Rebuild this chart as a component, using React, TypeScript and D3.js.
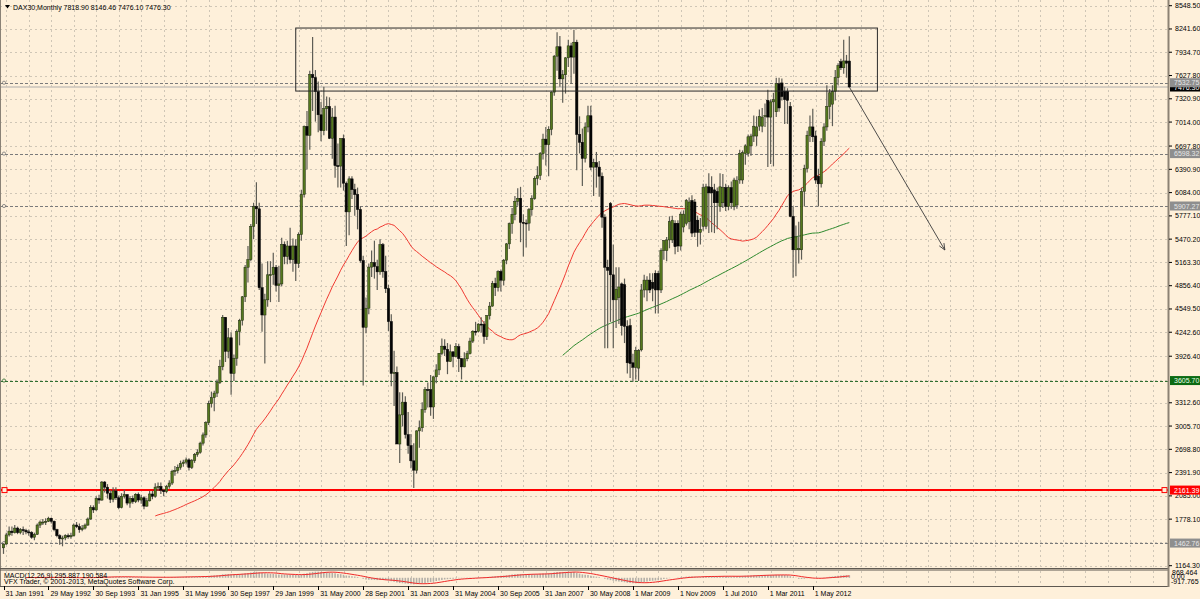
import React from 'react';
import * as d3 from 'd3';

// ---------- DATA ----------
const openP = [
  1400,1450,1570,1620,1600,1660,1600,1640,1630,1610,1600,1540,
  1578,1700,1740,1740,1750,1790,1750,1640,1560,1520,1530,1560,
  1545,1560,1700,1680,1640,1660,1700,1780,1930,1900,2050,2030,
  2267,2200,2120,2040,2150,2060,1930,2080,2100,1990,2050,2010,
  2106,2030,2060,1950,2020,2110,2080,2200,2210,2160,2140,2210,
  2254,2410,2420,2460,2510,2530,2560,2460,2550,2630,2660,2780,
  2889,3050,3300,3380,3440,3580,3790,4440,3990,4170,3700,3900,
  4250,4400,4710,5100,5200,5640,5900,5870,4830,4470,4670,5000,
  5002,5100,4860,4880,5400,5240,5380,5200,5380,5150,5530,6060,
  6958,6840,7640,7600,7414,7110,6900,7190,7220,6800,7080,6440,
  6434,6795,6208,5830,6265,6123,6058,5861,5188,4308,4560,5102,
  5160,5108,5039,5397,5042,4818,4383,3700,3712,2769,3153,3321,
  2893,2748,2547,2424,2942,2983,3221,3487,3485,3257,3655,3746,
  3965,4059,4018,3857,3985,3921,4052,3895,3786,3893,3960,4126,
  4256,4254,4350,4349,4185,4461,4587,4887,4830,5044,4929,5193,
  5408,5674,5796,5970,6009,5692,5683,5681,5859,6004,6269,6309,
  6597,6789,6716,6917,7409,7883,8007,7584,7638,7861,8019,7871,
  8067,6851,6748,6535,6949,
  7097,6420,6480,6420,6300,5760,5100,5940,5000,4670,
  4700,4880,4870,4320,4330,3840,3780,3770,4010,4800,
  4800,4930,4900,5020,5020,4800,5320,5320,5460,5460,
  5680,5680,5380,5630,5680,5700,5980,5960,5720,5560,
  5640,5640,6160,6150,6120,6100,5900,5950,6150,5900,
  6150,5900,5920,6250,6250,6600,6600,6700,6830,6830,
  6960,6960,7090,7300,7080,7280,7150,7520,7530,7420,
  7420,7220,5770,5330,5330,5330,6100,6400,6840,6950,
  6830,6300,6200,6760,6950,7220,7250,7420,7600,7810,
  7730,7820,7818.9,
];
const highP = [
  1460,1600,1680,1680,1700,1680,1660,1680,1650,1640,1620,1600,
  1720,1760,1780,1790,1810,1800,1760,1650,1580,1560,1580,1590,
  1600,1720,1740,1720,1700,1720,1800,1960,1960,2080,2100,2280,
  2280,2240,2160,2200,2200,2090,2120,2170,2110,2080,2090,2120,
  2130,2100,2080,2060,2150,2150,2250,2260,2260,2180,2230,2290,
  2430,2480,2500,2550,2560,2590,2580,2570,2650,2700,2800,2920,
  3070,3340,3460,3470,3620,3880,4470,4440,4300,4240,3950,4280,
  4420,4720,5130,5380,5670,5950,6220,5950,5150,4750,5180,5180,
  5290,5130,5120,5490,5440,5450,5620,5480,5470,5560,6120,6970,
  7160,7690,8136,7700,7550,7280,7480,7350,7340,7200,7230,6730,
  6800,6850,6230,6300,6300,6200,6150,5900,5250,4700,5150,5320,
  5450,5200,5470,5420,5250,4870,4480,4000,3790,3450,3450,3400,
  3190,2900,2780,2950,3080,3320,3520,3580,3680,3660,3820,3970,
  4160,4150,4100,4080,3990,4100,4090,3900,3980,4000,4170,4270,
  4380,4360,4440,4390,4470,4640,4920,4960,5060,5070,5210,5420,
  5690,5880,6040,6140,6160,5800,5730,5880,6050,6300,6430,6620,
  6860,6950,6960,7420,7900,8200,8150,7700,7870,8100,8060,8230,
  8100,7090,6930,7010,7230,
  7230,6530,6620,6500,6350,5800,5200,5960,5400,5100,
  5100,4900,4950,4400,4420,3960,4050,4020,4880,5000,
  4980,5020,5020,5060,5050,5350,5460,5500,5770,5780,
  5720,5720,5830,5850,6000,6020,6050,6000,5780,5750,
  6200,6200,6340,6300,6200,6150,6340,6330,6200,6180,
  6230,6280,6300,6650,6640,6720,6850,6860,7100,7090,
  7180,7200,7260,7440,7310,7400,7600,7600,7590,7480,
  7460,7280,5900,5650,5700,6150,6450,6900,7100,7190,
  6900,6400,6800,7000,7500,7450,7500,7700,7790,7850,
  8100,7900,8146.46,
];
const lowP = [
  1320,1440,1550,1560,1590,1580,1580,1570,1580,1560,1520,1500,
  1570,1660,1700,1700,1740,1720,1620,1540,1440,1420,1500,1520,
  1520,1550,1660,1600,1620,1640,1690,1770,1860,1890,1980,2020,
  2130,2050,1990,2000,2030,1910,1920,2050,1960,1930,1980,1990,
  2000,1980,1910,1940,2010,2040,2060,2150,2110,2080,2120,2180,
  2230,2350,2380,2430,2470,2500,2420,2440,2520,2600,2640,2750,
  2850,3020,3250,3200,3390,3560,3740,3850,3900,3420,3600,3800,
  4070,4330,4640,4900,5180,5470,5670,4800,4250,3830,4580,4640,
  4870,4780,4640,4850,5140,5140,5150,5040,4920,5090,5450,6020,
  6390,6650,7160,7020,6880,6760,6840,6900,6790,6530,6280,6150,
  6150,6110,5380,5520,6000,5780,5600,5160,3540,4230,4480,4970,
  4950,4800,5000,4960,4760,4260,3530,3270,2770,2520,3000,2840,
  2640,2450,2190,2380,2720,2930,3180,3250,3140,3100,3570,3680,
  3940,3930,3690,3850,3780,3910,3720,3620,3780,3860,3950,4100,
  4200,4240,4240,4090,4140,4410,4580,4720,4780,4780,4860,5140,
  5340,5540,5720,5910,5430,5240,5360,5580,5780,5990,6180,6250,
  6520,6440,6300,6840,7360,7690,7480,7270,7390,7740,7520,7650,
  6380,6600,6170,6480,6880,
  6380,6040,6150,6030,5620,4030,4030,4380,4030,4300,
  4350,4200,4100,3700,3640,3590,3620,3600,3990,4700,
  4650,4760,4650,4490,4490,4760,5200,5180,5350,5420,
  5270,5300,5320,5560,5650,5600,5500,5500,5370,5400,
  5580,5600,5550,5560,5550,5600,5830,5880,5840,5850,
  5870,5850,5870,6200,6200,6450,6560,6570,6750,6700,
  6900,6880,6950,6420,6460,6430,7080,7150,7300,6990,
  6990,5760,4960,4980,5150,5200,5900,6350,6750,6750,
  6200,5900,6150,6700,6900,7050,6960,7300,7500,7700,
  7650,7600,7476.1,
];
const closeP = [
  1450,1570,1620,1600,1660,1600,1640,1630,1610,1600,1540,1578,
  1700,1740,1740,1750,1790,1750,1640,1560,1520,1530,1560,1545,
  1560,1700,1680,1640,1660,1700,1780,1930,1900,2050,2030,2267,
  2200,2120,2040,2150,2060,1930,2080,2100,1990,2050,2010,2106,
  2030,2060,1950,2020,2110,2080,2200,2210,2160,2140,2210,2254,
  2410,2420,2460,2510,2530,2560,2460,2550,2630,2660,2780,2889,
  3050,3300,3380,3440,3580,3790,4440,3990,4170,3700,3900,4250,
  4400,4710,5100,5200,5640,5900,5870,4830,4470,4670,5000,5002,
  5100,4860,4880,5400,5240,5380,5200,5380,5150,5530,6060,6958,
  6840,7640,7600,7414,7110,6900,7190,7220,6800,7080,6440,6434,
  6795,6208,5830,6265,6123,6058,5861,5188,4308,4560,5102,5160,
  5108,5039,5397,5042,4818,4383,3700,3712,2769,3153,3321,2893,
  2748,2547,2424,2942,2983,3221,3487,3485,3257,3655,3746,3965,
  4059,4018,3857,3985,3921,4052,3895,3786,3893,3960,4126,4256,
  4254,4350,4349,4185,4461,4587,4887,4830,5044,4929,5193,5408,
  5674,5796,5970,6009,5692,5683,5681,5859,6004,6269,6309,6597,
  6789,6716,6917,7409,7883,8007,7584,7638,7861,8019,7871,8067,
  6851,6748,6535,6949,7097,
  6420,6480,6420,6300,5760,5100,5060,5000,4670,4810,
  4840,4330,4320,3840,3830,3780,4000,4000,4800,4930,
  4930,4800,4820,4800,4800,5320,5450,5460,5700,5720,
  5370,5380,5800,5800,5980,5960,5550,5560,5560,5600,
  6150,6160,6080,6080,5950,5950,6160,6150,5900,6150,
  5950,6250,6240,6600,6610,6700,6820,6830,6960,6950,
  7090,7080,7100,7080,7280,7310,7520,7200,7350,7310,
  7300,5770,5330,5500,5350,6100,6400,6840,6950,6820,
  6250,6200,6760,6950,7220,7400,7420,7600,7760,7730,
  7820,7790,7476.3,
];

const timeLabels = [
  '31 Jan 1991','29 May 1992','30 Sep 1993','31 Jan 1995','31 May 1996','30 Sep 1997',
  '29 Jan 1999','31 May 2000','28 Sep 2001','31 Jan 2003','31 May 2004','30 Sep 2005',
  '31 Jan 2007','30 May 2008','1 Mar 2009','1 Nov 2009','1 Jul 2010','1 Mar 2011','1 May 2012',
];
const timeLabelBars = [0,16,32,48,64,80,96,112,128,144,160,176,192,208,224,240,256,272,288];

const priceTicks = [
  '8548.50','8241.60','7934.70','7627.80','7320.90','7014.00','6697.80','6390.90','6084.00',
  '5777.10','5470.20','5163.30','4856.40','4549.50','4242.60','3926.40','3312.60','3005.70',
  '2698.80','2391.90','2085.00','1778.10','1164.30',
];
const gridPrices = [3619.5, 1471.2];

const greyLevels = [7532.75, 6598.32, 5907.27, 1462.76];
const greenLevel = 3605.70;
const redLevel = 2161.39;
const bidPrice = 7476.30;

const boxBars = [104, 311];
const boxPrices = [8254, 7423];
const arrowBars = [301, 335];
const arrowPrices = [7476, 5327];

const headerText = 'DAX30,Monthly  7818.90 8146.46 7476.10 7476.30';
const macdText = 'MACD(12,26,9) 295.887 190.584';
const copyText = 'VFX Trader, \u00a9 2001-2013, MetaQuotes Software Corp.';
const macdRange = [-917.765, 868.464];
const maPeriods = [55, 200];

// ---------- CHART ----------
const BG = '#FEF0DA';
const FONT = '"Liberation Sans", Arial, sans-serif';
const PLOT_R = 1168;
const PLOT_B = 568;

export default function App() {
  const xs = d3.scaleLinear().domain([0, 288]).range([3.5, 3.5 + 2.81 * 288]);
  const ys = d3.scaleLinear().domain([1164.3, 8548.5]).range([565.7, 5.7]);
  const ym = d3.scaleLinear().domain(macdRange).range([585, 571]);

  const sma = (arr: number[], p: number) =>
    arr.map((_, i) => (i < p - 1 ? null : (d3.mean(arr.slice(i - p + 1, i + 1)) as number)));
  const ema = (p: number) => {
    const k = 2 / (p + 1);
    const out: number[] = [];
    closeP.forEach((c, i) => out.push(i === 0 ? c : c * k + out[i - 1] * (1 - k)));
    return out;
  };
  const maFast = sma(closeP, maPeriods[0]);
  const maSlow = sma(closeP, maPeriods[1]);
  const e12 = ema(12), e26 = ema(26);
  const macd = e12.map((v, i) => v - e26[i]);
  const signal = sma(macd, 9);
  const clampM = (v: number) => Math.max(macdRange[0], Math.min(macdRange[1], v));

  const priceLine = d3.line<number | null>()
    .defined((d) => d != null)
    .x((_, i) => xs(i))
    .y((d) => ys(d as number));
  const sigLine = d3.line<number | null>()
    .defined((d) => d != null)
    .x((_, i) => xs(i))
    .y((d) => ym(clampM(d as number)));

  const gridX: number[] = [];
  for (let b = 1; xs(b) < PLOT_R; b += 8) gridX.push(xs(b));

  const ax = xs(arrowBars[0]), ay = ys(arrowPrices[0]);
  const bx = xs(arrowBars[1]), by = ys(arrowPrices[1]);
  const ang = Math.atan2(by - ay, bx - ax);
  const ah = 7;
  const arrowHead = `M${bx - ah * Math.cos(ang - 0.4)},${by - ah * Math.sin(ang - 0.4)} L${bx},${by} L${bx - ah * Math.cos(ang + 0.4)},${by - ah * Math.sin(ang + 0.4)}`;

  const priceBox = (price: number, label: string, bg: string, fg: string, key: string) => {
    const y = ys(price);
    return (
      <g key={key}>
        <rect x={1170} y={y - 4.5} width={30} height={9} fill={bg} />
        <text x={1174} y={y + 2.6} fontSize={7} fontFamily={FONT} fill={fg}>{label}</text>
      </g>
    );
  };

  return (
    <svg width={1200} height={599} style={{ position: 'absolute', left: 0, top: 0, background: BG }}>
      <defs>
        <clipPath id="plot"><rect x={0} y={0} width={PLOT_R} height={PLOT_B} /></clipPath>
        <clipPath id="macd"><rect x={0} y={570} width={PLOT_R} height={16} /></clipPath>
      </defs>
      <rect x={0} y={0} width={1200} height={599} fill={BG} />

      {/* grid */}
      <g stroke="#CFC6B6" strokeWidth={1} strokeDasharray="2,3">
        {priceTicks.map((t) => (
          <line key={t} x1={0} x2={PLOT_R} y1={Math.round(ys(+t)) + 0.5} y2={Math.round(ys(+t)) + 0.5} />
        ))}
        {gridPrices.map((p) => (
          <line key={p} x1={0} x2={PLOT_R} y1={Math.round(ys(p)) + 0.5} y2={Math.round(ys(p)) + 0.5} />
        ))}
        {gridX.map((x, i) => (
          <line key={i} x1={Math.round(x) + 0.5} x2={Math.round(x) + 0.5} y1={0} y2={PLOT_B} />
        ))}
        {gridX.map((x, i) => (
          <line key={'m' + i} x1={Math.round(x) + 0.5} x2={Math.round(x) + 0.5} y1={571} y2={585} />
        ))}
      </g>

      <g clipPath="url(#plot)">
        {/* level lines */}
        <line x1={0} x2={PLOT_R} y1={ys(bidPrice)} y2={ys(bidPrice)} stroke="#C9C3BA" strokeWidth={1.5} />
        {greyLevels.map((p) => (
          <g key={p}>
            <line x1={0} x2={PLOT_R} y1={Math.round(ys(p)) + 0.5} y2={Math.round(ys(p)) + 0.5} stroke="#7A7A7A" strokeDasharray="3,2" />
            <circle cx={4} cy={ys(p)} r={1.6} fill="none" stroke="#7A7A7A" strokeWidth={0.8} />
          </g>
        ))}
        <line x1={0} x2={PLOT_R} y1={Math.round(ys(greenLevel)) + 0.5} y2={Math.round(ys(greenLevel)) + 0.5} stroke="#2F6F2F" strokeDasharray="3,2" />
        <circle cx={4} cy={ys(greenLevel)} r={1.6} fill="none" stroke="#2F6F2F" strokeWidth={0.8} />
        <line x1={0} x2={PLOT_R} y1={ys(redLevel)} y2={ys(redLevel)} stroke="#FF0000" strokeWidth={2} />
        <rect x={2} y={ys(redLevel) - 2.5} width={5} height={5} fill={BG} stroke="#FF0000" strokeWidth={1} />
        <rect x={1162} y={ys(redLevel) - 2.5} width={5} height={5} fill={BG} stroke="#FF0000" strokeWidth={1} />

        {/* moving averages */}
        <path d={priceLine(maFast) || ''} fill="none" stroke="#F03A32" strokeWidth={1} />
        <path d={priceLine(maSlow) || ''} fill="none" stroke="#2E8A2E" strokeWidth={1} />

        {/* candles */}
        {closeP.map((c, i) => {
          const o = openP[i];
          const x = xs(i);
          const up = c >= o;
          const top = ys(Math.max(o, c));
          const bot = ys(Math.min(o, c));
          return (
            <g key={i}>
              <line x1={x} x2={x} y1={ys(highP[i])} y2={ys(lowP[i])} stroke="#5E5D55" strokeWidth={1.2} />
              <rect
                x={x - 1.2}
                y={top}
                width={2.4}
                height={Math.max(1, bot - top)}
                fill={up ? '#55781E' : '#050505'}
                stroke={up ? '#1E2A10' : '#050505'}
                strokeWidth={0.5}
              />
            </g>
          );
        })}

        {/* objects */}
        <rect x={xs(boxBars[0])} y={ys(boxPrices[0])} width={xs(boxBars[1]) - xs(boxBars[0])} height={ys(boxPrices[1]) - ys(boxPrices[0])} fill="none" stroke="#2A2A2A" strokeWidth={1} />
        <line x1={ax} y1={ay} x2={bx} y2={by} stroke="#3A3A3A" strokeWidth={0.9} />
        <path d={arrowHead} fill="none" stroke="#3A3A3A" strokeWidth={0.9} />
      </g>

      {/* MACD panel */}
      <g clipPath="url(#macd)">
        {macd.map((v, i) => (
          <line key={i} x1={xs(i)} x2={xs(i)} y1={ym(0)} y2={ym(clampM(v))} stroke="#B4B0A8" strokeWidth={1.6} />
        ))}
        <path d={sigLine(signal) || ''} fill="none" stroke="#F02828" strokeWidth={1} />
      </g>

      {/* frames */}
      <line x1={0.5} x2={0.5} y1={0} y2={586} stroke="#8A8276" strokeWidth={1} />
      <line x1={0} x2={PLOT_R + 1} y1={PLOT_B + 0.5} y2={PLOT_B + 0.5} stroke="#5E5850" strokeWidth={1} />
      <line x1={0} x2={PLOT_R + 1} y1={570} y2={570} stroke="#5E5850" strokeWidth={1.2} />
      <line x1={0} x2={PLOT_R + 1} y1={586.5} y2={586.5} stroke="#5E5850" strokeWidth={1} />
      <line x1={PLOT_R + 0.5} x2={PLOT_R + 0.5} y1={0} y2={587} stroke="#8C8274" strokeWidth={2} />

      {/* header texts */}
      <path d="M5,5 L10,5 L7.5,8.5 Z" fill="#000" />
      <text x={13} y={9.5} fontSize={7} fontFamily={FONT} fill="#000">{headerText}</text>
      <text x={4} y={578} fontSize={7} fontFamily={FONT} fill="#000">{macdText}</text>
      <text x={4} y={583.5} fontSize={7} fontFamily={FONT} fill="#000">{copyText}</text>

      {/* price axis */}
      {priceTicks.map((t) => {
        const y = ys(+t);
        return (
          <g key={t}>
            <line x1={PLOT_R + 1} x2={PLOT_R + 4} y1={y} y2={y} stroke="#000" strokeWidth={1} />
            <text x={1175} y={y + 2.5} fontSize={7} fontFamily={FONT} fill="#000">{t}</text>
          </g>
        );
      })}
      {priceBox(bidPrice, bidPrice.toFixed(2), '#000000', '#FFFFFF', 'b2')}
      {priceBox(greyLevels[0], greyLevels[0].toFixed(2), '#8E8E8E', '#E6E6E6', 'b1')}
      {priceBox(greyLevels[1], greyLevels[1].toFixed(2), '#8E8E8E', '#E6E6E6', 'b3')}
      {priceBox(greyLevels[2], greyLevels[2].toFixed(2), '#8E8E8E', '#E6E6E6', 'b4')}
      {priceBox(greenLevel, greenLevel.toFixed(2), '#0C6A12', '#E8FFE8', 'b5')}
      {priceBox(redLevel, redLevel.toFixed(2), '#FF0000', '#FFFFFF', 'b6')}
      {priceBox(greyLevels[3], greyLevels[3].toFixed(2), '#8E8E8E', '#E6E6E6', 'b7')}

      {/* MACD scale labels */}
      <text x={1172} y={575} fontSize={7} fontFamily={FONT} fill="#000">{macdRange[1].toFixed(3)}</text>
      <text x={1171} y={579} fontSize={7} fontFamily={FONT} fill="#000">0.00</text>
      <text x={1171} y={583.5} fontSize={7} fontFamily={FONT} fill="#000">{macdRange[0].toFixed(3)}</text>

      {/* time axis */}
      {timeLabels.map((t, i) => {
        const x = xs(timeLabelBars[i]);
        return (
          <g key={t}>
            <line x1={Math.round(x) + 0.5} x2={Math.round(x) + 0.5} y1={586} y2={590} stroke="#000" strokeWidth={1} />
            <text x={x + 2} y={596} fontSize={7} fontFamily={FONT} fill="#000">{t}</text>
          </g>
        );
      })}
    </svg>
  );
}
